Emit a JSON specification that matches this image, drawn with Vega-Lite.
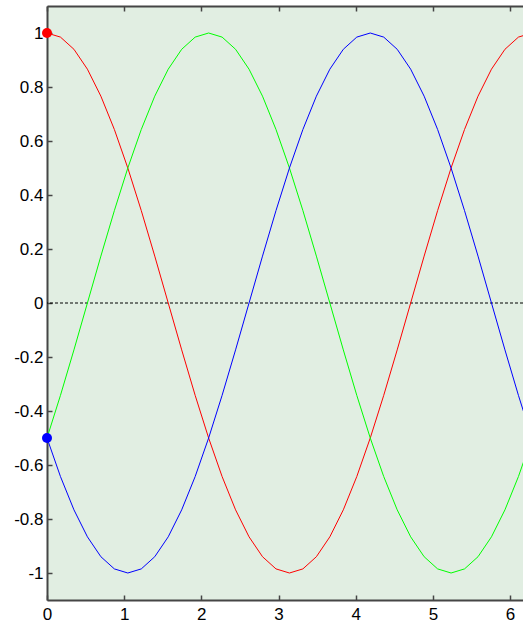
{
  "$schema": "https://vega.github.io/schema/vega-lite/v6.json",
  "autosize": {"type": "none"},
  "padding": {"left": 47, "top": 6, "right": 0, "bottom": 23},
  "width": 476,
  "height": 594,
  "background": "#ffffff",
  "config": {
    "view": {"stroke": null, "fill": "#e1eee2"},
    "axis": {
      "grid": false,
      "title": null,
      "domainColor": "#454545",
      "domainWidth": 2,
      "tickColor": "#454545",
      "tickWidth": 1.5,
      "tickSize": -5,
      "labelFont": "Liberation Sans",
      "labelFontSize": 17,
      "labelColor": "#000000",
      "labelPadding": 9,
      "labelFlush": false
    }
  },
  "datasets": {
    "waves": [
      {"x": 0, "r": 1, "g": -0.5, "b": -0.5},
      {"x": 0.1745, "r": 0.98481, "g": -0.34202, "b": -0.64279},
      {"x": 0.3491, "r": 0.93969, "g": -0.17365, "b": -0.76604},
      {"x": 0.5236, "r": 0.86603, "g": 0, "b": -0.86603},
      {"x": 0.6981, "r": 0.76604, "g": 0.17365, "b": -0.93969},
      {"x": 0.8727, "r": 0.64279, "g": 0.34202, "b": -0.98481},
      {"x": 1.0472, "r": 0.5, "g": 0.5, "b": -1},
      {"x": 1.2217, "r": 0.34202, "g": 0.64279, "b": -0.98481},
      {"x": 1.3963, "r": 0.17365, "g": 0.76604, "b": -0.93969},
      {"x": 1.5708, "r": 0, "g": 0.86603, "b": -0.86603},
      {"x": 1.7453, "r": -0.17365, "g": 0.93969, "b": -0.76604},
      {"x": 1.9199, "r": -0.34202, "g": 0.98481, "b": -0.64279},
      {"x": 2.0944, "r": -0.5, "g": 1, "b": -0.5},
      {"x": 2.2689, "r": -0.64279, "g": 0.98481, "b": -0.34202},
      {"x": 2.4435, "r": -0.76604, "g": 0.93969, "b": -0.17365},
      {"x": 2.6180, "r": -0.86603, "g": 0.86603, "b": 0},
      {"x": 2.7925, "r": -0.93969, "g": 0.76604, "b": 0.17365},
      {"x": 2.9671, "r": -0.98481, "g": 0.64279, "b": 0.34202},
      {"x": 3.1416, "r": -1, "g": 0.5, "b": 0.5},
      {"x": 3.3161, "r": -0.98481, "g": 0.34202, "b": 0.64279},
      {"x": 3.4907, "r": -0.93969, "g": 0.17365, "b": 0.76604},
      {"x": 3.6652, "r": -0.86603, "g": 0, "b": 0.86603},
      {"x": 3.8397, "r": -0.76604, "g": -0.17365, "b": 0.93969},
      {"x": 4.0143, "r": -0.64279, "g": -0.34202, "b": 0.98481},
      {"x": 4.1888, "r": -0.5, "g": -0.5, "b": 1},
      {"x": 4.3633, "r": -0.34202, "g": -0.64279, "b": 0.98481},
      {"x": 4.5379, "r": -0.17365, "g": -0.76604, "b": 0.93969},
      {"x": 4.7124, "r": 0, "g": -0.86603, "b": 0.86603},
      {"x": 4.8869, "r": 0.17365, "g": -0.93969, "b": 0.76604},
      {"x": 5.0615, "r": 0.34202, "g": -0.98481, "b": 0.64279},
      {"x": 5.2360, "r": 0.5, "g": -1, "b": 0.5},
      {"x": 5.4105, "r": 0.64279, "g": -0.98481, "b": 0.34202},
      {"x": 5.5851, "r": 0.76604, "g": -0.93969, "b": 0.17365},
      {"x": 5.7596, "r": 0.86603, "g": -0.86603, "b": 0},
      {"x": 5.9341, "r": 0.93969, "g": -0.76604, "b": -0.17365},
      {"x": 6.1087, "r": 0.98481, "g": -0.64279, "b": -0.34202},
      {"x": 6.2832, "r": 1, "g": -0.5, "b": -0.5}
    ],
    "markers": [
      {"x": 0, "y": 1, "series": "r"},
      {"x": 0, "y": -0.5, "series": "b"}
    ]
  },
  "resolve": {"axis": {"x": "independent"}},
  "layer": [
    {
      "data": {"values": [{"y": 0}]},
      "mark": {"type": "rule", "color": "#000000", "strokeWidth": 1, "strokeDash": [3, 2]},
      "encoding": {
        "y": {"field": "y", "type": "quantitative", "scale": {"domain": [-1.1, 1.1], "nice": false, "zero": false}}
      }
    },
    {
      "data": {"name": "waves"},
      "transform": [{"fold": ["r", "g", "b"], "as": ["series", "value"]}],
      "mark": {"type": "line", "strokeWidth": 1, "clip": true},
      "encoding": {
        "x": {
          "field": "x", "type": "quantitative",
          "scale": {"domain": [0, 6.168], "nice": false, "zero": false},
          "axis": {"orient": "bottom", "values": [0, 1, 2, 3, 4, 5, 6], "labelPadding": 11,
                   "labelExpr": "replace(format(datum.value, '~g'), '\u2212', '-')"}
        },
        "y": {
          "field": "value", "type": "quantitative",
          "scale": {"domain": [-1.1, 1.1], "nice": false, "zero": false},
          "axis": {"values": [-1, -0.8, -0.6, -0.4, -0.2, 0, 0.2, 0.4, 0.6, 0.8, 1],
                   "labelExpr": "replace(format(datum.value, '~g'), '\u2212', '-')"}
        },
        "color": {
          "field": "series", "type": "nominal",
          "scale": {"domain": ["r", "g", "b"], "range": ["#ff0000", "#00ff00", "#0000ff"]},
          "legend": null
        },
        "detail": {"field": "series"}
      }
    },
    {
      "data": {"name": "markers"},
      "mark": {"type": "point", "filled": true, "opacity": 1, "size": 100, "shape": "circle"},
      "encoding": {
        "x": {
          "field": "x", "type": "quantitative",
          "axis": {"orient": "top", "values": [0, 1, 2, 3, 4, 5, 6], "labels": false}
        },
        "y": {"field": "y", "type": "quantitative"},
        "color": {"field": "series", "type": "nominal", "legend": null}
      }
    }
  ]
}
